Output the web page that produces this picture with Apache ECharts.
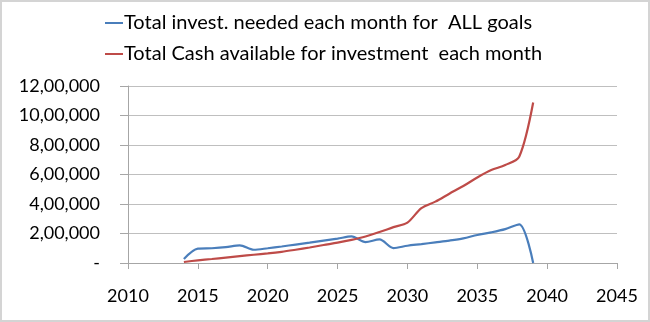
<!DOCTYPE html>
<html><head><meta charset="utf-8">
<script src="https://cdn.jsdelivr.net/npm/echarts@6/dist/echarts.min.js"></script>
<style>html,body{margin:0;padding:0;background:#fff}#c{width:650px;height:322px}</style>
</head><body><div id="c"></div>
<script>
const years = [2014,2015,2016,2017,2018,2019,2020,2021,2022,2023,2024,2025,2026,2027,2028,2029,2030,2031,2032,2033,2034,2035,2036,2037,2038,2039];
const investNeeded = [27000,97000,100000,107000,120000,90000,100000,112000,125000,138000,152000,165000,180000,142000,160000,101000,117000,128000,140000,152000,167000,190000,208000,230000,262000,0];
const cashAvailable = [7000,18000,27000,37000,47000,56000,65000,76000,90000,105000,122000,138000,157000,180000,210000,243000,274000,372000,416000,470000,522000,580000,630000,664000,720000,1088000];
const seriesNames = ['Total invest. needed each month for  ALL goals','Total Cash available for investment  each month'];
const xTicks = {min:2010,max:2045,interval:5};
const yTicks = {min:0,max:1200000,interval:200000};

function indian(v){
  if(v===0) return '-';
  let s = String(Math.round(v));
  let last3 = s.slice(-3), rest = s.slice(0,-3);
  if(rest) rest = rest.replace(/\B(?=(\d{2})+(?!\d))/g, ',') + ',';
  return rest + last3;
}
const chart = echarts.init(document.getElementById('c'), null, {renderer:'canvas'});
const font = 'Lato';
chart.setOption({
  animation:false,
  backgroundColor:'#fff',
  graphic:[{type:'rect',shape:{x:1,y:1,width:648,height:320},style:{fill:'none',stroke:'#d4d4d4',lineWidth:2}}],
  legend:{
    orient:'vertical', left:105, top:12, itemGap:9, itemWidth:18, itemHeight:2,
    icon:'rect', padding:0,
    textStyle:{fontFamily:font,fontSize:20,color:'#000',padding:[0,0,0,-4],lineHeight:22},
    data:seriesNames
  },
  grid:{left:128,right:33,top:86,bottom:59},
  xAxis:{type:'value',min:xTicks.min,max:xTicks.max,interval:xTicks.interval,
    axisLine:{show:true,lineStyle:{color:'#a6a6a6'}},
    axisTick:{show:true,length:6,lineStyle:{color:'#a6a6a6'}},
    splitLine:{show:false},
    axisLabel:{margin:24,fontFamily:font,fontSize:18,color:'#000',formatter:v=>String(v)}
  },
  yAxis:{type:'value',min:yTicks.min,max:yTicks.max,interval:yTicks.interval,
    axisLine:{show:true,lineStyle:{color:'#a6a6a6'}},
    axisTick:{show:true,length:8,lineStyle:{color:'#a6a6a6'}},
    splitLine:{show:true,lineStyle:{color:'#bfbfbf'}},
    axisLabel:{margin:28,fontFamily:font,fontSize:18,color:'#000',formatter:indian}
  },
  series:[
    {name:seriesNames[0],type:'line',smooth:0.3,showSymbol:false,
     lineStyle:{color:'#4a7ebb',width:2.2},itemStyle:{color:'#4a7ebb'},
     data:years.map((y,i)=>[y,investNeeded[i]])},
    {name:seriesNames[1],type:'line',smooth:0.3,showSymbol:false,
     lineStyle:{color:'#be4b48',width:2.2},itemStyle:{color:'#be4b48'},
     data:years.map((y,i)=>[y,cashAvailable[i]])}
  ]
});
</script></body></html>
